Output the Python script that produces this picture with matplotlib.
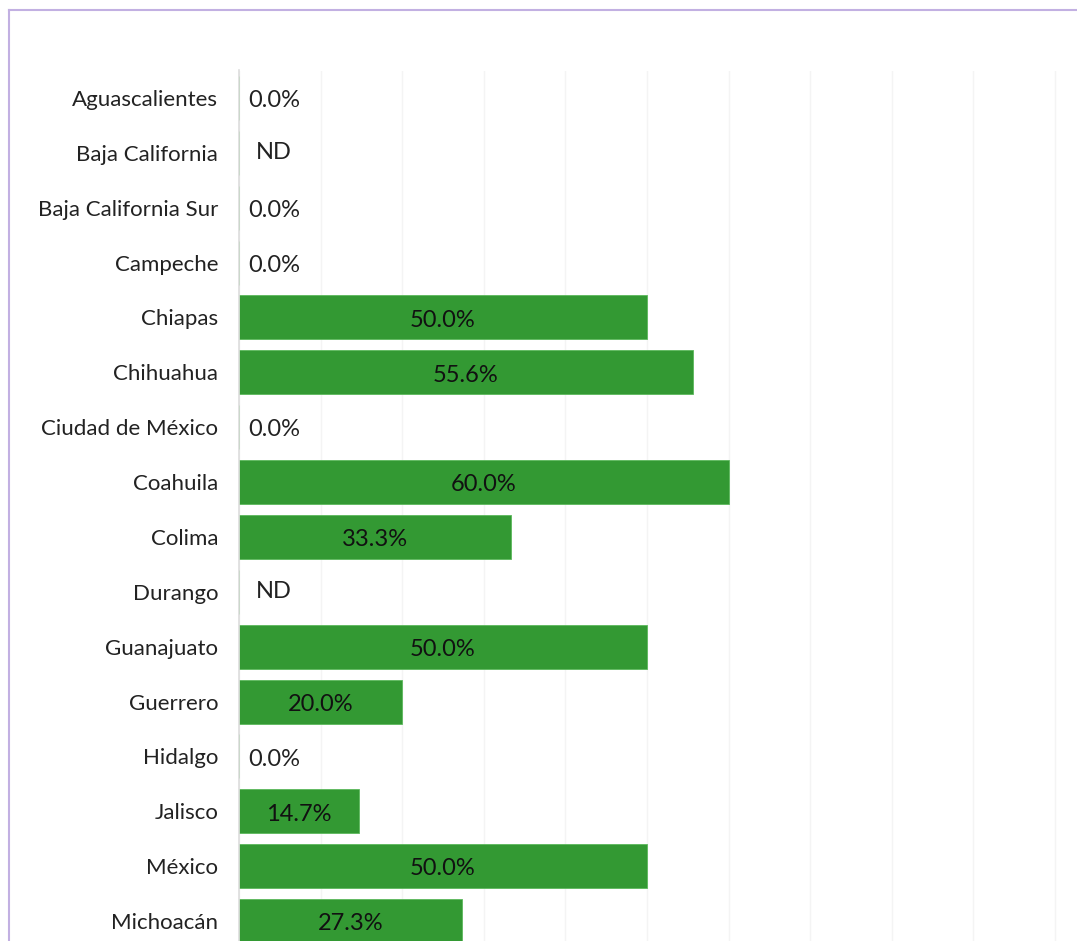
import numpy as np
import matplotlib.pyplot as plt
from matplotlib.lines import Line2D

plt.rcParams['font.family'] = ['Lato', 'DejaVu Sans']

estados = ['Aguascalientes', 'Baja California', 'Baja California Sur', 'Campeche',
           'Chiapas', 'Chihuahua', 'Ciudad de México', 'Coahuila', 'Colima',
           'Durango', 'Guanajuato', 'Guerrero', 'Hidalgo', 'Jalisco', 'México',
           'Michoacán']
# None marks states without data (ND)
porcentaje = [0.0, None, 0.0, 0.0, 50.0, 55.6, 0.0, 60.0, 33.3, None, 50.0,
              20.0, 0.0, 14.7, 50.0, 27.3]

fig = plt.figure(figsize=(10.77, 9.41), dpi=100)
W, H = 1077, 941
ax = fig.add_axes([239 / W, 0, (1077 - 239) / W, (941 - 70.5) / H])

y = np.arange(len(estados))
vals = [v if v is not None else 0 for v in porcentaje]
ax.barh(y, vals, height=0.8, color='#339933', edgecolor='#5cb85c',
        linewidth=0.6, zorder=2)

fs = 17
for i, v in enumerate(porcentaje):
    if v is None:
        ax.text(4.3, i, 'ND', ha='center', va='center', fontsize=fs,
                color='#222222', zorder=3)
    elif v == 0:
        ax.text(1.1, i + 0.05, f'{v:.1f}%', ha='left', va='center',
                fontsize=fs, color='#222222', zorder=3)
    else:
        ax.text(v / 2, i + 0.05, f'{v:.1f}%', ha='center', va='center',
                fontsize=fs, color='#111111', zorder=3)

ax.set_xlim(0, (1077 - 239) / 8.16)
ax.set_ylim((941 - 98) / 54.87, -0.5)
ax.set_xticks(np.arange(0, 101, 10))
ax.xaxis.grid(True, color='#f4f4f4', linewidth=1, zorder=0)
ax.tick_params(axis='x', length=0, labelbottom=False)
ax.tick_params(axis='y', length=0, pad=15, labelsize=16, labelcolor='#222222')
ax.set_yticks(y)
ax.set_yticklabels(estados)
for s in ['top', 'right', 'bottom']:
    ax.spines[s].set_visible(False)
ax.spines['left'].set_color('#dddddd')
ax.spines['left'].set_linewidth(1.2)

# outer frame, top and left edges
frame = '#c2b0e2'
fig.add_artist(Line2D([9 / W, 1], [1 - 10 / H, 1 - 10 / H], color=frame, lw=1.5))
fig.add_artist(Line2D([9 / W, 9 / W], [0, 1 - 10 / H], color=frame, lw=1.5))

fig.savefig('out.png', dpi=100)
